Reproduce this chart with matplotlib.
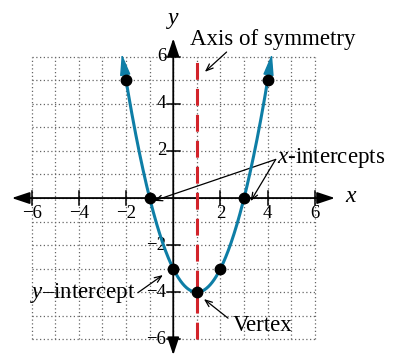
import matplotlib
matplotlib.use('Agg')
import matplotlib.pyplot as plt
import numpy as np

plt.rcParams['font.family'] = ['Liberation Serif', 'DejaVu Serif']
plt.rcParams['mathtext.fontset'] = 'custom'
plt.rcParams['mathtext.it'] = 'Liberation Serif:italic'
plt.rcParams['mathtext.rm'] = 'Liberation Serif'

# parabola y = a x^2 + b x + c
coef_a, coef_b, coef_c = 1, -2, -3
point_x = [-2, -1, 0, 2, 3, 4]
point_y = [5, 0, -3, -3, 0, 5]
vertex = (1, -4)
axis_x = 1
ticks = [-6, -4, -2, 2, 4, 6]
tick_labels = ['\u22126', '\u22124', '\u22122', '2', '4', '6']

blue = '#0e7ea6'
red = '#d2232a'


def f(x):
    return coef_a * x**2 + coef_b * x + coef_c


fig = plt.figure(figsize=(3.93, 3.57), dpi=100)
ax = fig.add_axes([0, 0, 1, 1])
ax.set_xlim(-7.34, 9.31)
ax.set_ylim(-6.75, 8.41)
ax.axis('off')

# dotted grid
grid = np.arange(-6, 7)
ax.vlines(grid, -6, 6, colors='#666666', linestyles=(0, (1, 2)), lw=0.9, zorder=1)
ax.hlines(grid, -6, 6, colors='#666666', linestyles=(0, (1, 2)), lw=0.9, zorder=1)

# axes with arrows
arr = dict(arrowstyle='<|-|>,head_length=0.9,head_width=0.3', color='black',
           lw=1.3, shrinkA=0, shrinkB=0, mutation_scale=12)
ax.annotate('', xy=(6.85, 0), xytext=(-6.84, 0), arrowprops=arr, zorder=3)
ax.annotate('', xy=(0, 6.78), xytext=(0, -6.67), arrowprops=arr, zorder=3)

for t, lab in zip(ticks, tick_labels):
    ax.plot([t, t], [-0.28, 0.28], color='black', lw=1.1, zorder=3)
    ax.plot([-0.28, 0.28], [t, t], color='black', lw=1.1, zorder=3)
    ax.text(t, -0.65, lab, ha='center', va='center', fontsize=13.5, zorder=4)
    ax.text(-0.3, t, lab, ha='right', va='center', fontsize=13.5, zorder=4)

ax.text(7.5, 0.05, 'x', style='italic', fontsize=17, ha='center', va='center')
ax.text(0, 7.64, 'y', style='italic', fontsize=17, ha='center', va='center')

# axis of symmetry
ax.plot([axis_x, axis_x], [-6, 6], color=red, lw=2.2, dashes=(5.5, 3), zorder=5)

# curve
x0 = 1 - np.sqrt(10) - 0.02
x1 = 1 + np.sqrt(10) + 0.02
xs = np.linspace(x0 + 0.1, x1 - 0.1, 300)
ax.plot(xs, f(xs), color=blue, lw=2.2, zorder=6)
carr = dict(arrowstyle='-|>,head_length=1.1,head_width=0.27', color=blue,
            lw=1.0, shrinkA=0, shrinkB=0, mutation_scale=12)
for xa, xb in [(x0, x0 + 0.3), (x1, x1 - 0.3)]:
    ax.annotate('', xy=(xa, f(xa)), xytext=(xb, f(xb)),
                arrowprops=carr, zorder=6)

ax.plot(point_x, point_y, 'o', color='black', markersize=7.5, zorder=7)
ax.plot(vertex[0], vertex[1], 'o', color='black', markersize=7.5, zorder=7)

# annotations
fs = 16.5
thin = dict(arrowstyle='->,head_length=0.5,head_width=0.2', color='black',
            lw=0.9, shrinkA=0, shrinkB=0)
ax.text(0.7, 6.75, 'Axis of symmetry', fontsize=fs, ha='left', va='center')
ax.annotate('', xy=(1.34, 5.36), xytext=(2.26, 6.2), arrowprops=thin)

ax.text(4.4, 1.7, '$\\it{x}$-intercepts', fontsize=fs, ha='left', va='center')
ax.annotate('', xy=(-0.82, -0.12), xytext=(4.34, 1.64), arrowprops=thin)
ax.annotate('', xy=(3.28, -0.13), xytext=(4.34, 1.64), arrowprops=thin)

ax.text(-1.62, -4.03, '$\\it{y}$\u2013intercept', fontsize=fs, ha='right', va='center')
ax.annotate('', xy=(-0.44, -3.27), xytext=(-1.5, -4.02), arrowprops=thin)

ax.text(2.54, -5.43, 'Vertex', fontsize=fs, ha='left', va='center')
ax.annotate('', xy=(1.3, -4.29), xytext=(2.32, -5.1), arrowprops=thin)

fig.savefig('out.png', dpi=100)
